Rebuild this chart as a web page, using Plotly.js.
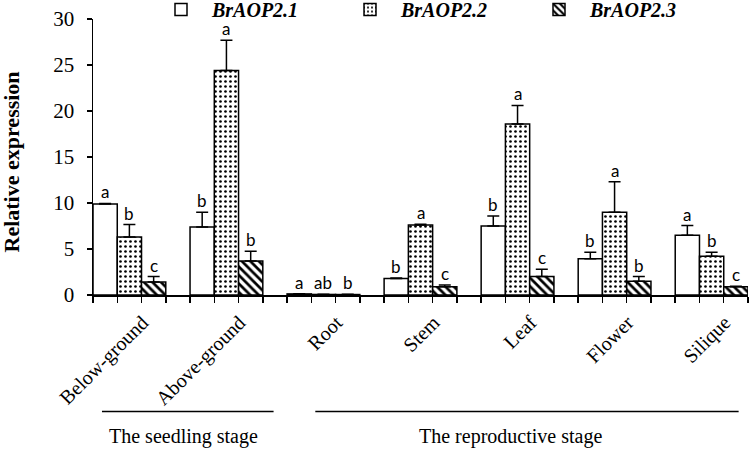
<!DOCTYPE html>
<html>
<head>
<meta charset="utf-8">
<script src="https://cdn.plot.ly/plotly-3.0.1.min.js"></script>
<style>html,body{margin:0;padding:0;background:#fff;}#chart{width:750px;height:450px;}</style>
</head>
<body>
<div id="chart"></div>
<script>
// ---- data ----
var categories = ["Below-ground", "Above-ground", "Root", "Stem", "Leaf", "Flower", "Silique"];
var seriesNames = ["BrAOP2.1", "BrAOP2.2", "BrAOP2.3"];
var aop21 = [9.9, 7.4, 0.12, 1.8, 7.5, 3.95, 6.5];
var aop22 = [6.3, 24.4, 0.06, 7.6, 18.6, 9.0, 4.2];
var aop23 = [1.4, 3.7, 0.05, 0.9, 2.0, 1.5, 0.9];
var err21 = [0.05, 1.6, 0.02, 0.05, 1.1, 0.7, 1.05];
var err22 = [1.35, 3.3, 0.02, 0.08, 2.0, 3.3, 0.45];
var err23 = [0.6, 1.05, 0.02, 0.2, 0.8, 0.5, 0.05];
var sig21 = ["a", "b", "a", "b", "b", "b", "a"];
var sig22 = ["b", "a", "ab", "a", "a", "a", "b"];
var sig23 = ["c", "b", "b", "c", "c", "b", "c"];
var stageNames = ["The seedling stage", "The reproductive stage"];
var yTitle = "Relative expression";

var serif = "'Liberation Serif', 'Times New Roman', Times, serif";
var idx = categories.map(function (c, i) { return i; });
var values = [aop21, aop22, aop23];
var errs = [err21, err22, err23];
var sigs = [sig21, sig22, sig23];
var patterns = [
  {shape: "", fgcolor: "black", bgcolor: "white"},
  {shape: ".", fgcolor: "black", bgcolor: "white", size: 5, solidity: 0.22},
  {shape: "\\", fgcolor: "black", bgcolor: "white", size: 6, solidity: 0.45}
];

var traces = values.map(function (v, k) {
  return {
    type: "bar",
    name: seriesNames[k],
    x: idx,
    y: v,
    marker: {color: "white", line: {color: "black", width: 1.5}, pattern: patterns[k]},
    error_y: {type: "data", symmetric: false, array: errs[k], arrayminus: v.map(function () { return 0; }),
              color: "black", thickness: 1.5, width: 6},
    hoverinfo: "skip"
  };
});
// invisible trace carrying category labels on overlay axis
traces.push({type: "scatter", x: idx, y: idx.map(function () { return 0; }), xaxis: "x2", yaxis: "y",
             mode: "markers", marker: {opacity: 0}, showlegend: false, hoverinfo: "skip"});

var barW = 0.25;
var edgeTicks = [];
idx.forEach(function (i) {
  for (var j = 0; j < 4; j++) edgeTicks.push(i - 1.5 * barW + j * barW);
});

var annotations = [];
sigs.forEach(function (s, k) {
  s.forEach(function (t, i) {
    annotations.push({x: i + (k - 1) * barW, y: values[k][i] + errs[k][i], xref: "x", yref: "y",
      text: t, showarrow: false, yanchor: "bottom", yshift: -1,
      font: {family: "Lato, 'Liberation Sans', sans-serif", size: 17, color: "black"}});
  });
});
var stagePos = [0.1383, 0.637];
stageNames.forEach(function (t, i) {
  annotations.push({x: stagePos[i], y: -0.512, xref: "paper", yref: "paper", text: t, showarrow: false,
    xanchor: "center", yanchor: "middle", font: {family: serif, size: 20, color: "black"}});
});
annotations.push({x: -0.124, y: 0.483, xref: "paper", yref: "paper", text: "<b>" + yTitle + "</b>",
  textangle: -90, showarrow: false, xanchor: "center", yanchor: "middle",
  font: {family: serif, size: 22, color: "black"}});

var layout = {
  width: 750, height: 450,
  margin: {l: 92.7, r: 2.3, t: 19.3, b: 154.7, pad: 0, autoexpand: false},
  paper_bgcolor: "white", plot_bgcolor: "white",
  barmode: "group", bargap: 0.25, bargroupgap: 0,
  showlegend: true,
  legend: {orientation: "h", xref: "container", yref: "paper", x: 0.2, y: 1.105, xanchor: "left", yanchor: "top",
           entrywidth: 122, entrywidthmode: "pixels", tracegroupgap: 0, itemwidth: 52,
           font: {family: serif, size: 20, color: "black", weight: "bold", style: "italic"},
           bgcolor: "rgba(0,0,0,0)"},
  xaxis: {range: [-0.375, 6.375], tickmode: "array", tickvals: edgeTicks, showticklabels: false,
          ticks: "outside", ticklen: 6, tickwidth: 1.5, tickcolor: "black",
          showline: true, linecolor: "black", linewidth: 1.5, showgrid: false, zeroline: false, fixedrange: true},
  xaxis2: {overlaying: "x", anchor: "y", side: "bottom", range: [-0.51, 6.24], tickmode: "array",
           tickvals: idx, ticktext: categories, tickangle: -45, ticks: "", showline: false, showgrid: false,
           zeroline: false, ticklabelstandoff: 11,
           tickfont: {family: serif, size: 20, color: "black"}},
  yaxis: {range: [0, 30], tickvals: [0, 5, 10, 15, 20, 25, 30], ticks: "outside", ticklen: 5, tickwidth: 1.5,
          tickcolor: "black", showline: true, linecolor: "black", linewidth: 1.5, showgrid: false, zeroline: false,
          ticklabelstandoff: 8,
          tickfont: {family: serif, size: 21, color: "black"}},
  shapes: [
    {type: "line", xref: "paper", yref: "paper", x0: 0.0137, x1: 0.2757, y0: -0.4217, y1: -0.4217,
     line: {color: "black", width: 1.5}},
    {type: "line", xref: "paper", yref: "paper", x0: 0.3394, x1: 0.9857, y0: -0.4217, y1: -0.4217,
     line: {color: "black", width: 1.5}}
  ],
  annotations: annotations
};

Plotly.newPlot("chart", traces, layout, {staticPlot: true, displayModeBar: false});
</script>
</body>
</html>
